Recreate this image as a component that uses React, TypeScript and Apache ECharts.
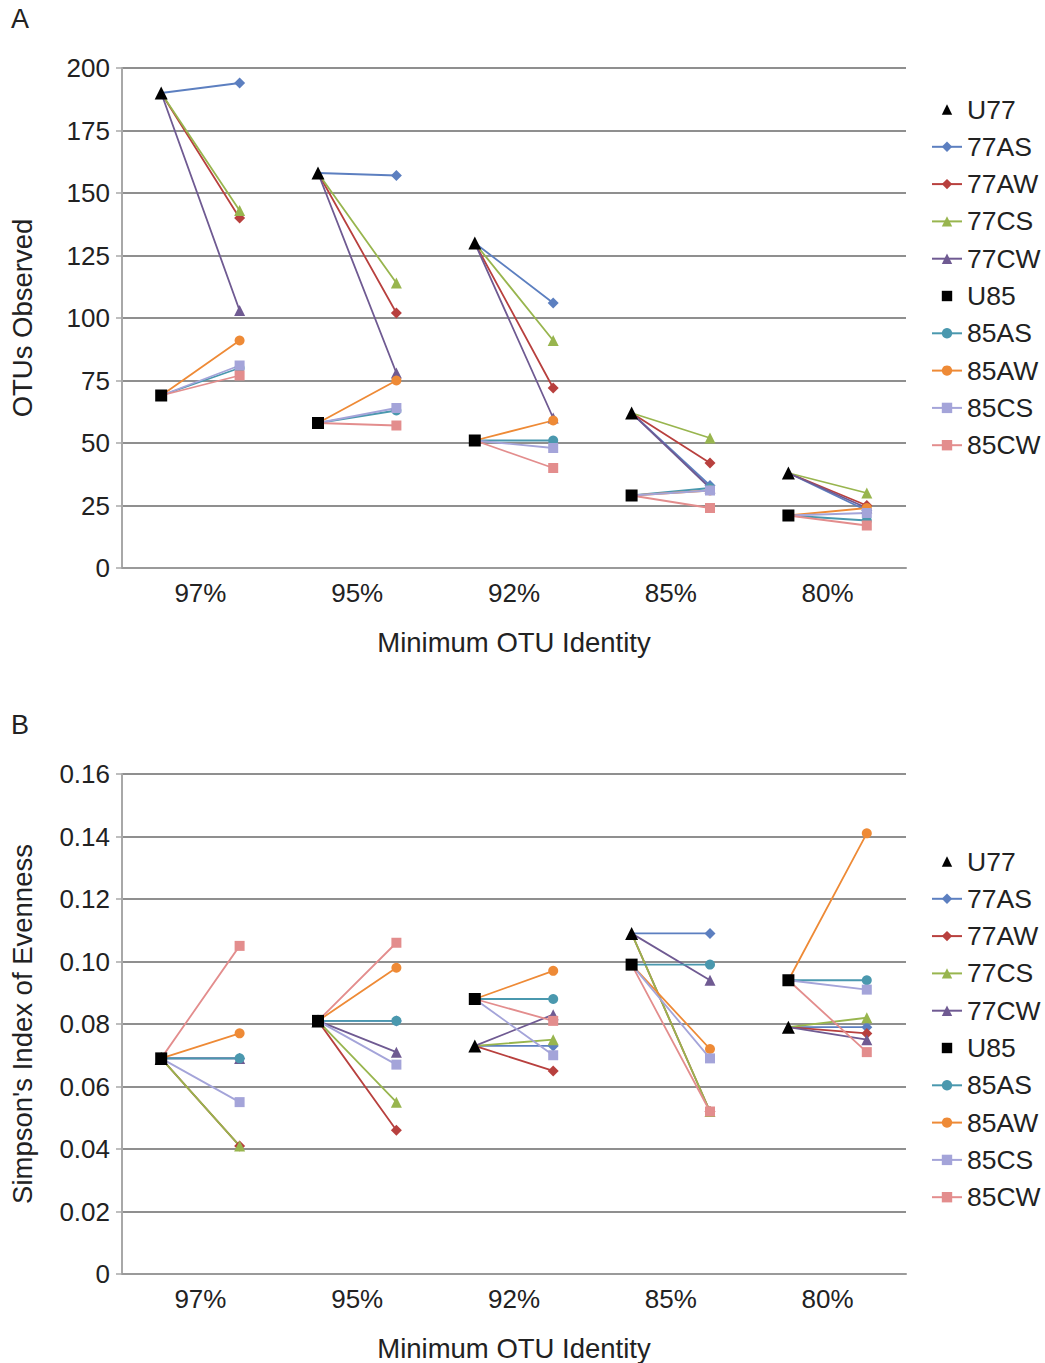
import React, { useEffect, useRef } from "react";
import * as echarts from "echarts";

const CATEGORIES = ["97%", "95%", "92%", "85%", "80%"];
const SERIES_NAMES = ["U77", "77AS", "77AW", "77CS", "77CW", "U85", "85AS", "85AW", "85CS", "85CW"];

// Panel A: OTUs observed
const OTU_U77 = [190, 158, 130, 62, 38];
const OTU_U85 = [69, 58, 51, 29, 21];
const OTU_77AS = [194, 157, 106, 33, 23];
const OTU_77AW = [140, 102, 72, 42, 25];
const OTU_77CS = [143, 114, 91, 52, 30];
const OTU_77CW = [103, 78, 60, 32, 24];
const OTU_85AS = [80, 63, 51, 32, 19];
const OTU_85AW = [91, 75, 59, 31, 24];
const OTU_85CS = [81, 64, 48, 31, 22];
const OTU_85CW = [77, 57, 40, 24, 17];

// Panel B: Simpson's index of evenness
const SIM_U77 = [0.069, 0.081, 0.073, 0.109, 0.079];
const SIM_U85 = [0.069, 0.081, 0.088, 0.099, 0.094];
const SIM_77AS = [0.069, 0.081, 0.073, 0.109, 0.079];
const SIM_77AW = [0.041, 0.046, 0.065, 0.052, 0.077];
const SIM_77CS = [0.041, 0.055, 0.075, 0.052, 0.082];
const SIM_77CW = [0.069, 0.071, 0.083, 0.094, 0.075];
const SIM_85AS = [0.069, 0.081, 0.088, 0.099, 0.094];
const SIM_85AW = [0.077, 0.098, 0.097, 0.072, 0.141];
const SIM_85CS = [0.055, 0.067, 0.07, 0.069, 0.091];
const SIM_85CW = [0.105, 0.106, 0.081, 0.052, 0.071];

const Y_A_TICKS = { min: 0, max: 200, interval: 25 };
const Y_B_TICKS = { min: 0, max: 0.16, interval: 0.02 };

const FONT = "'Liberation Sans', Arial, sans-serif";
const TXT = "#222";
const GRIDC = "#8f8f8f";

const STYLE: Record<string, { color: string; symbol: string; size: number }> = {
  "77AS": { color: "#5C7FC0", symbol: "diamond", size: 11 },
  "77AW": { color: "#B8403E", symbol: "diamond", size: 11 },
  "77CS": { color: "#98B54E", symbol: "triangle", size: 11 },
  "77CW": { color: "#6F5A92", symbol: "triangle", size: 11 },
  "85AS": { color: "#4A98AE", symbol: "circle", size: 10 },
  "85AW": { color: "#EE8A36", symbol: "circle", size: 10 },
  "85CS": { color: "#A4A4D9", symbol: "rect", size: 10 },
  "85CW": { color: "#E38D8D", symbol: "rect", size: 10 },
};

function pairData(ctrl: number[], treat: number[]) {
  const out: any[] = [];
  ctrl.forEach((c, i) => {
    out.push({ value: [i * 2 + 0.5, c], symbol: "none" });
    out.push({ value: [i * 2 + 1.5, treat[i]] });
    out.push({ value: [i * 2 + 1.6, "-"] });
  });
  return out;
}

function ctrlData(ctrl: number[]) {
  const out: any[] = [];
  ctrl.forEach((c, i) => {
    out.push([i * 2 + 0.5, c]);
    out.push([i * 2 + 0.6, "-"]);
  });
  return out;
}

function buildSeries(idx: number, d: Record<string, number[]>) {
  const list: any[] = [];
  const groups: [string, string[]][] = [
    ["U77", ["77AS", "77AW", "77CS", "77CW"]],
    ["U85", ["85AS", "85AW", "85CS", "85CW"]],
  ];
  groups.forEach(([ctrl, treats]) => {
    treats.forEach((t) => {
      const s = STYLE[t];
      list.push({
        name: t,
        type: "line",
        xAxisIndex: idx,
        yAxisIndex: idx,
        data: pairData(d[ctrl], d[t]),
        symbol: s.symbol,
        symbolSize: s.size,
        showSymbol: true,
        connectNulls: false,
        lineStyle: { color: s.color, width: 1.8 },
        itemStyle: { color: s.color },
        z: 2,
      });
    });
  });
  [
    ["U77", "triangle", 13],
    ["U85", "rect", 12],
  ].forEach(([name, sym, size]) => {
    list.push({
      name,
      type: "line",
      xAxisIndex: idx,
      yAxisIndex: idx,
      data: ctrlData(d[name as string]),
      symbol: sym,
      symbolSize: size,
      showSymbol: true,
      connectNulls: false,
      lineStyle: { width: 0, opacity: 0, color: "#000" },
      itemStyle: { color: "#000" },
      z: 5,
    });
  });
  return list;
}

function xAxis(idx: number) {
  return {
    type: "value",
    gridIndex: idx,
    min: 0,
    max: 10,
    interval: 1,
    axisLine: { show: true, lineStyle: { color: "#9a9a9a", width: 2 } },
    axisTick: { show: false },
    splitLine: { show: false },
    axisLabel: {
      fontSize: 26,
      fontFamily: FONT,
      color: TXT,
      margin: 12,
      formatter: (v: number) => (Math.round(v) % 2 === 1 ? CATEGORIES[(Math.round(v) - 1) / 2] : ""),
    },
    name: "Minimum OTU Identity",
    nameLocation: "middle",
    nameGap: 60,
    nameTextStyle: { fontSize: 27.5, fontFamily: FONT, color: TXT },
  };
}

function yAxis(idx: number, ticks: { min: number; max: number; interval: number }, name: string, fmt: (v: number) => string) {
  return {
    type: "value",
    gridIndex: idx,
    min: ticks.min,
    max: ticks.max,
    interval: ticks.interval,
    axisLine: { show: true, lineStyle: { color: "#a8a8a8", width: 2 } },
    axisTick: { show: true, length: 6, lineStyle: { color: "#a8a8a8", width: 1.5 } },
    splitLine: { show: true, lineStyle: { color: GRIDC, width: 2 } },
    axisLabel: { fontSize: 26, fontFamily: FONT, color: TXT, margin: 12, formatter: fmt },
    name,
    nameLocation: "middle",
    nameGap: 86,
    nameTextStyle: { fontSize: 27.5, fontFamily: FONT, color: TXT },
  };
}

function legend(top: number) {
  return {
    orient: "vertical",
    left: 926,
    top,
    itemWidth: 30,
    itemHeight: 13,
    itemGap: 10.3,
    data: SERIES_NAMES,
    textStyle: { fontSize: 26.5, fontFamily: FONT, color: TXT, lineHeight: 26 },
    selectedMode: false,
  };
}

export default function App() {
  const ref = useRef<HTMLDivElement>(null);
  useEffect(() => {
    if (!ref.current) return;
    const chart = echarts.init(ref.current, null, { renderer: "svg" });
    const dA = {
      U77: OTU_U77, U85: OTU_U85,
      "77AS": OTU_77AS, "77AW": OTU_77AW, "77CS": OTU_77CS, "77CW": OTU_77CW,
      "85AS": OTU_85AS, "85AW": OTU_85AW, "85CS": OTU_85CS, "85CW": OTU_85CW,
    };
    const dB = {
      U77: SIM_U77, U85: SIM_U85,
      "77AS": SIM_77AS, "77AW": SIM_77AW, "77CS": SIM_77CS, "77CW": SIM_77CW,
      "85AS": SIM_85AS, "85AW": SIM_85AW, "85CS": SIM_85CS, "85CW": SIM_85CW,
    };
    chart.setOption({
      animation: false,
      backgroundColor: "#fff",
      textStyle: { fontFamily: FONT },
      grid: [
        { left: 122, top: 68, width: 784, height: 500 },
        { left: 122, top: 774, width: 784, height: 501 },
      ],
      xAxis: [xAxis(0), xAxis(1)],
      yAxis: [
        yAxis(0, Y_A_TICKS, "OTUs Observed", (v: number) => String(v)),
        yAxis(1, Y_B_TICKS, "Simpson's Index of Evenness", (v: number) => (v === 0 ? "0" : v.toFixed(2))),
      ],
      legend: [legend(91), legend(843)],
      graphic: [
        { type: "text", left: 11, top: 5, style: { text: "A", fontSize: 27, fontFamily: FONT, fill: TXT } },
        { type: "text", left: 11, top: 711, style: { text: "B", fontSize: 27, fontFamily: FONT, fill: TXT } },
      ],
      series: [...buildSeries(0, dA), ...buildSeries(1, dB)],
    });
    return () => chart.dispose();
  }, []);
  return <div ref={ref} style={{ position: "absolute", left: 0, top: 0, width: 1045, height: 1363 }} />;
}
